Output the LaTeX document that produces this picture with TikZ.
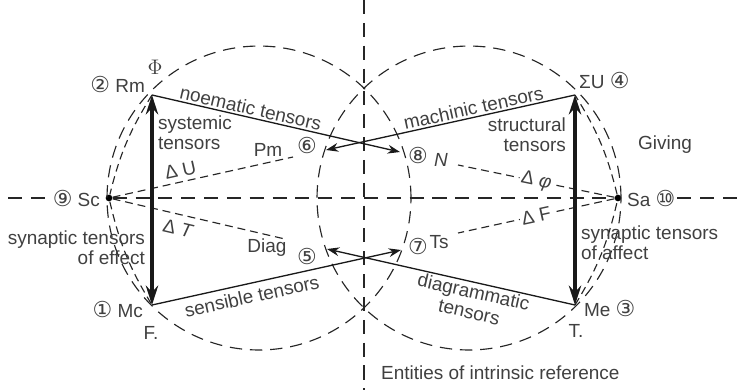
\documentclass[tikz,border=0pt]{standalone}
\usepackage{fontspec}
\setmainfont{Liberation Sans}
\newfontfamily\circfont{DejaVu Sans}
\usetikzlibrary{arrows.meta}
\newcommand{\Num}[1]%
% circled number
{{\circfont\fontsize{12.5}{12.5}\selectfont #1}}

\begin{document}
\begin{tikzpicture}
[   x=0.02cm, y=-0.02cm,
    every node/.style={font=\fontsize{10.8}{11.6}\selectfont, text=black!75, inner sep=1pt},
    axis/.style={black!85, line width=0.65pt, dash pattern=on 8pt off 5pt},
    ring/.style={black!85, line width=0.65pt, dash pattern=on 7pt off 4.5pt},
    ray/.style={black!85, line width=0.65pt, dash pattern=on 4.5pt off 2.8pt},
    bar/.style={black!90, line width=2.3pt, {Stealth[length=11pt,width=7pt]}-{Stealth[length=11pt,width=7pt]}},
    tensor/.style={black!90, line width=0.75pt, -{Stealth[length=7pt,width=5pt]}},
    dot/.style={circle, fill=black, inner sep=0, minimum size=3.8pt}
]
    \useasboundingbox (0,0) rectangle (744,390);

    % corners and synapses
    \coordinate (Rm) at (152,95);
    \coordinate (Mc) at (152,305);
    \coordinate (SU) at (575,95);
    \coordinate (Me) at (575,305);
    \node[dot] (Sc) at (109,198) {};
    \node[dot] (Sa) at (618,198) {};
    \coordinate (p6) at (326,150);
    \coordinate (p8) at (400,152);
    \coordinate (p5) at (327,249);
    \coordinate (p7) at (401,250);
    \coordinate (rPm) at (293,157);
    \coordinate (rDiag) at (285,239);
    \coordinate (rN) at (458,165);
    \coordinate (rTs) at (458,233);
    \coordinate (top) at (364,0);
    \coordinate (bot) at (364,390);

    % the two circles
    \draw[ring] (259,198) circle (3.04cm);
    \draw[ring] (469,198) circle (3.04cm);

    % axes
    \node[anchor=east] (lSc) at (102,198) {\Num{⑨} Sc};
    \node[anchor=west] (lSa) at (625,198) {Sa \Num{⑩}};
    \draw[axis] (8,198) -- (lSc.west);
    \draw[axis] (Sc) -- (Sa);
    \draw[axis] (lSa.east) -- (744,198);
    \draw[axis] (top) -- (bot);

    % inner arcs
    \foreach \a/\b in {Rm/Sc, Sc/Mc, Sa/SU, Me/Sa}
    {   \draw[ray] (\a) to[bend right=9] (\b);
    }

    % rays from the synapses
    \draw[ray] (Sc) -- (rPm) node[pos=0.39, sloped, above=1.5pt] {Δ U};
    \draw[ray] (Sc) -- (rDiag) node[pos=0.4, sloped, below=3pt] {Δ \textit{T}};
    \draw[ray] (Sa) -- (rN) node[pos=0.5, sloped, fill=white] {Δ \textit{φ}};
    \draw[ray] (Sa) -- (rTs) node[pos=0.5, sloped, fill=white] {Δ F};

    % tensors
    \draw[bar] (Mc) -- (Rm);
    \draw[bar] (Me) -- (SU);
    \draw[tensor] (Rm) -- (p8) node[pos=0.39, sloped, above=0pt] {noematic tensors};
    \draw[tensor] (SU) -- (p6) node[pos=0.4, sloped, above=0pt] {machinic tensors};
    \draw[tensor] (Mc) -- (p7) node[pos=0.39, sloped, below=2pt] {sensible tensors};
    \draw[tensor] (Me) -- (p5) node[pos=0.4, sloped, below=0pt, align=center] {diagrammatic\\tensors};

    % labels
    \node (Phi) at (155,67) {\fontsize{12}{12}\selectfont$\Phi$};
    \node[anchor=east] (lRm) at (147,84) {\Num{②} Rm};
    \node[anchor=west] (lSU) at (577,80) {ΣU \Num{④}};
    \node[anchor=east] (lMc) at (145,309) {\Num{①} Mc};
    \node[anchor=west] (lMe) at (582,308) {Me \Num{③}};
    \node (lF) at (151,333) {F.};
    \node (lT) at (576,331) {T.};
    \node[anchor=west, align=left] (sys) at (156,133) {systemic\\tensors};
    \node[anchor=east, align=right] (struct) at (568,135) {structural\\tensors};
    \node (giving) at (665,145) {Giving};
    \node[anchor=east, align=right] (effect) at (147,248) {synaptic tensors\\of effect};
    \node[anchor=west, align=left] (affect) at (579,243) {synaptic tensors\\of affect};
    \node[anchor=west] (entities) at (379,373) {Entities of intrinsic reference};
    \node (Pm) at (268,150) {Pm};
    \node (n6) at (307,145) {\Num{⑥}};
    \node (Diag) at (267,248) {Diag};
    \node (n5) at (307,256) {\Num{⑤}};
    \node (n8) at (418,155) {\Num{⑧}};
    \node (N) at (441,160) {\textit{N}};
    \node (n7) at (418,246) {\Num{⑦}};
    \node (Ts) at (439,242) {Ts};
\end{tikzpicture}
\end{document}
